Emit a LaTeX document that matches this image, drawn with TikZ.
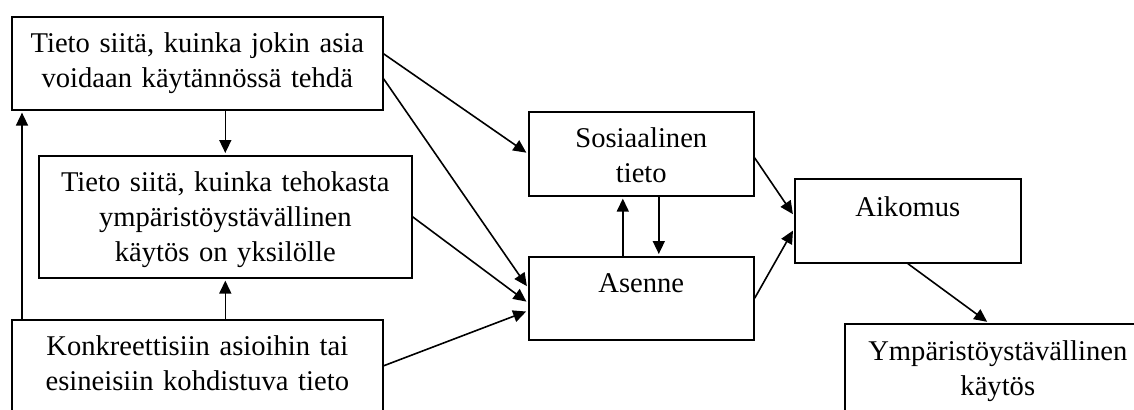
\documentclass[tikz,border=0pt]{standalone}
\usepackage{fontspec}
\setmainfont{Liberation Serif}
\usetikzlibrary{arrows.meta}

\begin{document}
\begin{tikzpicture}[x=0.5pt, y=-0.5pt]
	\path[use as bounding box, clip] (0,0) rectangle (1134,409);
	\begin{scope}[every node/.style={draw, anchor=north west, line width=0.8pt, inner sep=0pt, align=center, text height=17.75pt, font=\fontsize{14.3}{17.5}\selectfont}]
		\node (T1)[text width=185.5pt, text depth=28.75pt] at (11,16) {Tieto siitä, kuinka jokin asia\\voidaan käytännössä tehdä};
		\node (T2)[text width=186.5pt, text depth=43.25pt] at (38,155) {Tieto siitä, kuinka tehokasta\\ympäristöystävällinen\\käytös on yksilölle};
		\node (T3)[text width=185.5pt, text depth=32.25pt] at (11,319) {Konkreettisiin asioihin tai\\esineisiin kohdistuva tieto};
		\node (S)[text width=112.5pt, text depth=24.25pt] at (528,111) {Sosiaalinen\\tieto};
		\node (A)[text width=112.5pt, text depth=23.75pt] at (528,256) {Asenne};
		\node (I)[text width=113pt, text height=19pt, text depth=23pt] at (794,178) {Aikomus};
		\node (Y)[text width=153pt, text height=18.5pt, text depth=31.5pt] at (844,323) {Ympäristöystävällinen\\käytös};
	\end{scope}
	\begin{scope}[every edge/.style={draw, line width=0.8pt, shorten >=1pt, -{Triangle[length=6.5pt, width=6pt]}}]
		\path ([xshift=5.5pt]T3.north west) edge ([xshift=5.5pt]T1.south west);
		\path (T1.south -| T2.north) edge (T2.north);
		\path (T3.north -| T2.south) edge (T2.south);
		\path ([yshift=4.75pt]T1.east) edge (S.west);
		\path ([yshift=-7.75pt]T1.east) edge ([yshift=5.25pt]A.west);
		\path (T2.east) edge ([yshift=-2.25pt]A.west);
		\path ([yshift=2pt]T3.east) edge ([yshift=-6.25pt]A.west);
		\path ([xshift=-9.25pt]A.north) edge ([xshift=-9.25pt]S.south);
		\path ([xshift=8.75pt]S.south) edge ([xshift=8.75pt]A.north);
		\path ([yshift=-2pt]S.east) edge ([yshift=2.5pt]I.west);
		\path (A.east) edge ([yshift=-4pt]I.west);
		\path (I.south) edge ([xshift=-4.5pt]Y.north);
	\end{scope}
\end{tikzpicture}
\end{document}
